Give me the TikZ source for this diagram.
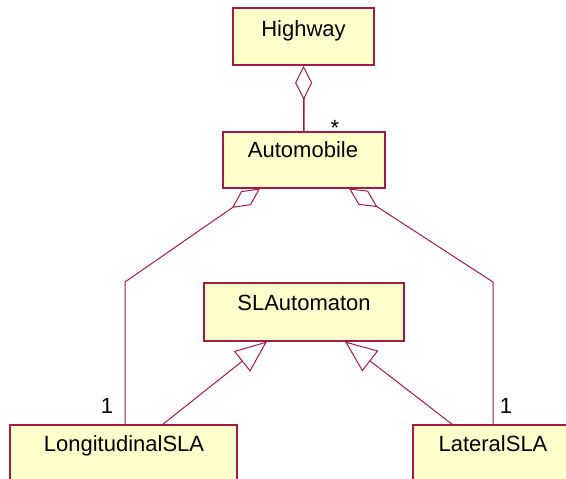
\documentclass[tikz,border=0pt]{standalone}
\usepackage{fontspec}
\setmainfont{Liberation Sans}
\usetikzlibrary{arrows.meta}
\definecolor{umlline}{RGB}{165,25,70}
\definecolor{umlfill}{RGB}{255,255,204}
\begin{document}
\begin{tikzpicture}[x=1pt,y=-1pt,
  classbox/.style={draw=umlline, fill=umlfill, line width=1.6pt, rectangle, inner sep=0pt},
  classname/.style={font=\fontsize{22}{25}\selectfont, anchor=base, inner sep=0pt},
  link/.style={draw=umlline, line width=1pt},
  aggr/.style={link, {Diamond[open, length=34pt, width=17pt, line width=1pt]}-},
  gen/.style={link, -{Triangle[open, length=32pt, width=26pt, line width=1pt]}},
  mult/.style={font=\fontsize{22}{25}\selectfont, anchor=base, inner sep=0pt}]
\useasboundingbox (0,0) rectangle (566,479);
\clip (0,0) rectangle (566,479);

% class boxes
\node[classbox, minimum width=141pt, minimum height=57pt] (hw)  at (303.5,36.5) {};
\node[classbox, minimum width=162pt, minimum height=56pt] (am)  at (304,160) {};
\node[classbox, minimum width=200pt, minimum height=58pt] (sla) at (304,312) {};
\node[classbox, minimum width=227pt, minimum height=75pt] (lon) at (123.5,462.5) {};
\node[classbox, minimum width=160pt, minimum height=75pt] (lat) at (493,462.5) {};

% class names
\node[classname] (hwt)  at (303.5,36.7) {Highway};
\node[classname] (amt)  at (303,157.3) {Automobile};
\node[classname] (slat) at (304,310) {SLAutomaton};
\node[classname] (lont) at (124,451.7) {LongitudinalSLA};
\node[classname] (latt) at (493,451.7) {LateralSLA};

% attachment and bend points
\coordinate (amL)   at (260,188.5);
\coordinate (amR)   at (349,188.5);
\coordinate (bendL) at (125,282);
\coordinate (bendR) at (493,282);
\coordinate (slaL)  at (267,341.5);
\coordinate (slaR)  at (345,341.5);
\coordinate (lonG)  at (162,425);
\coordinate (latG)  at (453,425);

% aggregations
\draw[aggr, line width=1.5pt] (hw.south) -- (am.north);
\draw[aggr] (amL) -- (bendL) -- (bendL |- lon.north);
\draw[aggr] (amR) -- (bendR) -- (bendR |- lat.north);

% generalizations
\draw[gen] (lonG) -- (slaL);
\draw[gen] (latG) -- (slaR);

% multiplicities
\node[mult] (mstar) at (335,135.5) {*};
\node[mult] (mlon)  at (107,413.3) {1};
\node[mult] (mlat)  at (506,413) {1};
\end{tikzpicture}
\end{document}
